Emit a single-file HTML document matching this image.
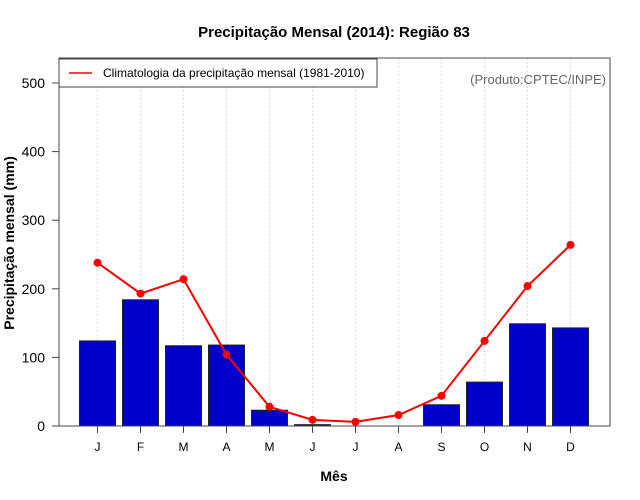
<!DOCTYPE html>
<html><head><meta charset="utf-8"><style>
body{margin:0;background:#fff}
svg{display:block;font-family:"Liberation Sans",sans-serif}
</style></head><body>
<svg id="chart" width="640" height="500">
<text x="334" y="37" text-anchor="middle" font-size="15" font-weight="bold">Precipitação Mensal (2014): Região 83</text>
<text x="0" y="0" transform="translate(14,243) rotate(-90)" text-anchor="middle" font-size="14" font-weight="bold">Precipitação mensal (mm)</text>
<text x="334" y="481" text-anchor="middle" font-size="14" font-weight="bold">Mês</text>
<g id="grid"></g><g id="bars"></g><g id="line"></g><g id="axes"></g>
<rect x="59" y="58" width="551" height="368" fill="none" stroke="#444" stroke-width="1"/>
<g>
<rect x="59" y="59" width="318" height="28" fill="#fff" stroke="#444"/>
<line x1="69" y1="73" x2="92" y2="73" stroke="red" stroke-width="1.5"/>
<text x="103" y="77" font-size="12">Climatologia da precipitação mensal (1981-2010)</text>
</g>
<text x="606" y="84" text-anchor="end" font-size="13" fill="#666">(Produto:CPTEC/INPE)</text>
</svg>
<script>
const months=["J","F","M","A","M","J","J","A","S","O","N","D"];
const precip=[124,184,117,118,23,2,0,0,31,64,149,143];
const clim=[238,193,214,104,28,9,6,16,44,124,204,264];
const yTicks=[0,100,200,300,400,500];
const NS="http://www.w3.org/2000/svg";
const x=i=>97.5+i*43;
const y=v=>426-v*0.686;
function mk(tag,attrs,parent){const e=document.createElementNS(NS,tag);for(const k in attrs)e.setAttribute(k,attrs[k]);document.getElementById(parent).appendChild(e);return e;}
months.forEach((m,i)=>{
 const g=mk('line',{x1:x(i),x2:x(i),y1:58,y2:426,stroke:'#ddd','stroke-dasharray':'2,2'},'grid');
 
 
 const b=mk('rect',{x:x(i)-18,y:y(precip[i]),width:36,height:426-y(precip[i]),fill:'#0000cc',stroke:'#222','stroke-width':1},'bars');
 
 
 const t=mk('line',{x1:x(i),x2:x(i),y1:426,y2:433,stroke:'#444'},'axes');
 
 
 const l=mk('text',{x:x(i),y:451,'text-anchor':'middle','font-size':12},'axes');
 l.textContent=m;
 
 
});
const pl=mk('polyline',{points:clim.map((v,i)=>x(i)+','+y(v)).join(' '),fill:'none',stroke:'red','stroke-width':2},'line');


clim.forEach((v,i)=>{
 const c=mk('circle',{cx:x(i),cy:y(v),r:4,fill:'red'},'line');
 
 
});
yTicks.forEach(v=>{
 const t=mk('line',{x1:52,x2:59,y1:y(v),y2:y(v),stroke:'#444'},'axes');
 
 
 const l=mk('text',{x:45,y:y(v)+5,'text-anchor':'end','font-size':14},'axes');
 l.textContent=v;
 
 
});
</script>
</body></html>
